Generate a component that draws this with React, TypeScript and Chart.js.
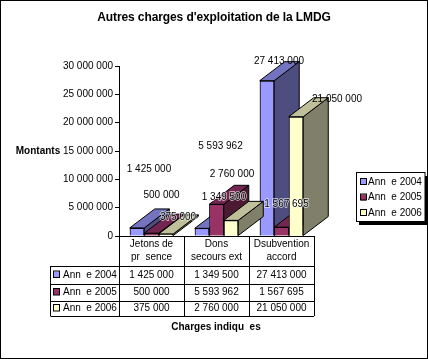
import React, { useEffect, useRef } from "react";
import { Chart, registerables } from "chart.js";

Chart.register(...registerables);

const categories = [["Jetons de", "pr  sence"], ["Dons", "secours ext"], ["Dsubvention", "accord"]];
const seriesNames = ["Ann  e 2004", "Ann  e 2005", "Ann  e 2006"];
const values2004 = [1425000, 1349500, 27413000];
const values2005 = [500000, 5593962, 1567695];
const values2006 = [375000, 2760000, 21050000];
const yTicks = [0, 5000000, 10000000, 15000000, 20000000, 25000000, 30000000];
const title = "Autres charges d'exploitation de la LMDG";
const yTitle = "Montants";
const xTitle = "Charges indiqu  es";

const allValues = [values2004, values2005, values2006];
const FRONT = ["#9999ff", "#993366", "#ffffcc"];
const TOP = ["#7373bf", "#732650", "#bfbf99"];
const SIDE = ["#4d4d80", "#4d1a33", "#80806a"];
const FAMILY = "'Liberation Sans', Arial, sans-serif";
const FONT = `10px ${FAMILY}`;
const BOLD = `bold 10px ${FAMILY}`;
const DX = 25;
const DY = 19;
// Where each value label sits relative to the top centre of its bar (style, per series/category)
const LABEL_OFFSETS = [
  [[12, -59], [22, -31], [12, -19]],
  [[10, -38], [4, -58], [5, -23]],
  [[12, -17], [1, -46], [41, -17]],
];
// Labels that sit over the dark bar sides and read with a pale fringe
const HALO = [
  [false, true, false],
  [false, false, true],
  [true, false, false],
];
const RULE_Y = [266, 284, 301, 316];

const fmt = (v: number) => String(v).replace(/\B(?=(\d{3})+(?!\d))/g, " ");

const paint = {
  id: "paint3d",
  beforeDraw(chart: any) {
    const { ctx, width, height } = chart;
    ctx.save();
    ctx.fillStyle = "#fff";
    ctx.fillRect(0, 0, width, height);
    ctx.strokeStyle = "#000";
    ctx.lineWidth = 1;
    ctx.strokeRect(0.5, 0.5, width - 1, height - 1);
    ctx.fillStyle = "#000";
    ctx.font = `bold 12px ${FAMILY}`;
    (ctx as any).letterSpacing = "-0.1px";
    ctx.textAlign = "center";
    ctx.textBaseline = "middle";
    ctx.fillText(title, 214, 18);
    (ctx as any).letterSpacing = "0px";
    ctx.restore();
  },
  afterDatasetsDraw(chart: any) {
    const { ctx, scales } = chart;
    const x = scales.x;
    const y = scales.y;
    ctx.save();
    ctx.strokeStyle = "#000";
    ctx.lineWidth = 1;
    ctx.lineJoin = "miter";

    allValues.forEach((_, i) => {
      const meta = chart.getDatasetMeta(i);
      meta.data.forEach((bar: any) => {
        const l = bar.x - bar.width / 2;
        const r = bar.x + bar.width / 2;
        const t = bar.y;
        const b = bar.base;
        ctx.fillStyle = SIDE[i];
        ctx.beginPath();
        ctx.moveTo(r, t);
        ctx.lineTo(r + DX, t - DY);
        ctx.lineTo(r + DX, b - DY);
        ctx.lineTo(r, b);
        ctx.closePath();
        ctx.fill();
        ctx.stroke();
        ctx.fillStyle = TOP[i];
        ctx.beginPath();
        ctx.moveTo(l, t);
        ctx.lineTo(l + DX, t - DY);
        ctx.lineTo(r + DX, t - DY);
        ctx.lineTo(r, t);
        ctx.closePath();
        ctx.fill();
        ctx.stroke();
        bar.draw(ctx);
      });
    });

    // table rules
    const left = chart.chartArea.left;
    const right = chart.chartArea.right;
    const base = y.getPixelForValue(0);
    const stepX = (right - left) / categories.length;
    const legendLeft = 50.5;
    ctx.beginPath();
    ctx.moveTo(left, base + 0.5);
    ctx.lineTo(right, base + 0.5);
    for (let c = 0; c <= categories.length; c++) {
      const vx = Math.round(left + stepX * c) + 0.5;
      ctx.moveTo(vx, base);
      ctx.lineTo(vx, RULE_Y[3]);
    }
    RULE_Y.forEach((ry) => {
      ctx.moveTo(legendLeft, ry + 0.5);
      ctx.lineTo(right, ry + 0.5);
    });
    ctx.moveTo(legendLeft, RULE_Y[0]);
    ctx.lineTo(legendLeft, RULE_Y[3]);
    ctx.stroke();

    ctx.fillStyle = "#000";
    ctx.font = FONT;
    ctx.textBaseline = "middle";
    seriesNames.forEach((name, i) => {
      const cy = (RULE_Y[i] + RULE_Y[i + 1]) / 2;
      ctx.fillStyle = FRONT[i];
      ctx.fillRect(54, cy - 3.5, 6, 6);
      ctx.strokeRect(53.5, cy - 4, 6, 6.5);
      ctx.fillStyle = "#000";
      ctx.textAlign = "left";
      ctx.fillText(name, 63, cy);
      ctx.textAlign = "center";
      allValues[i].forEach((v, c) => {
        ctx.fillText(fmt(v), x.getPixelForTick(c), cy);
      });
    });

    // value labels
    allValues.forEach((vals, i) => {
      const meta = chart.getDatasetMeta(i);
      vals.forEach((v, c) => {
        const bar = meta.data[c];
        const [ox, oy] = LABEL_OFFSETS[i][c];
        ctx.textAlign = "center";
        if (HALO[i][c]) {
          ctx.save();
          ctx.strokeStyle = "rgba(255,255,255,0.75)";
          ctx.lineWidth = 1.5;
          ctx.strokeText(fmt(v), bar.x + ox, bar.y + oy);
          ctx.restore();
        }
        ctx.fillStyle = "#000";
        ctx.fillText(fmt(v), bar.x + ox, bar.y + oy);
      });
    });

    // axis titles
    ctx.font = BOLD;
    ctx.textAlign = "center";
    ctx.fillText(yTitle, 38, y.getPixelForValue(15000000));
    ctx.fillText(xTitle, 216, 327);

    // legend box
    ctx.fillStyle = "#000";
    ctx.fillRect(359, 176, 69, 49);
    ctx.fillStyle = "#fff";
    ctx.fillRect(356.5, 172.5, 68.5, 49);
    ctx.strokeRect(356.5, 172.5, 68.5, 49);
    ctx.font = FONT;
    ctx.textAlign = "left";
    seriesNames.forEach((name, i) => {
      const cy = 182 + i * 15.5;
      ctx.fillStyle = FRONT[i];
      ctx.fillRect(361, cy - 3, 5, 6);
      ctx.strokeRect(360.5, cy - 3.5, 6, 6);
      ctx.fillStyle = "#000";
      ctx.fillText(name, 368, cy);
    });
    ctx.restore();
  },
};

export default function App() {
  const ref = useRef<HTMLCanvasElement>(null);
  useEffect(() => {
    const chart = new Chart(ref.current as HTMLCanvasElement, {
      type: "bar",
      data: {
        labels: categories as any,
        datasets: allValues.map((data, i) => ({
          label: seriesNames[i],
          data,
          backgroundColor: FRONT[i],
          borderColor: "#000",
          borderWidth: 1,
          categoryPercentage: 0.67,
          barPercentage: 1,
        })),
      },
      options: {
        responsive: false,
        animation: false,
        layout: { padding: { left: 0, right: 114, top: 66, bottom: 0 } },
        plugins: {
          legend: { display: false },
          tooltip: { enabled: false },
          title: { display: false },
        },
        scales: {
          x: {
            afterFit: (s: any) => { s.height = 123; },
            grid: { display: false, drawTicks: false },
            border: { display: false },
            ticks: {
              color: "#000",
              font: { family: FAMILY, size: 10, lineHeight: 1.3 },
              maxRotation: 0,
              padding: 2,
              autoSkip: false,
            },
          },
          y: {
            min: 0,
            max: 30000000,
            afterFit: (s: any) => { s.width = 119; },
            afterBuildTicks: (s: any) => { s.ticks = yTicks.map((value) => ({ value })); },
            grid: { drawOnChartArea: false, color: "#000", tickLength: 4 },
            border: { display: true, color: "#000", width: 1 },
            ticks: {
              color: "#000",
              font: { family: FAMILY, size: 10 },
              padding: 2,
              callback: (v: any) => fmt(Number(v)),
            },
          },
        },
      },
      plugins: [paint],
    } as any);
    return () => chart.destroy();
  }, []);
  return (
    <div style={{ position: "absolute", left: 0, top: 0, width: 428, height: 359 }}>
      <canvas ref={ref} width={428} height={359} style={{ display: "block" }} />
    </div>
  );
}
